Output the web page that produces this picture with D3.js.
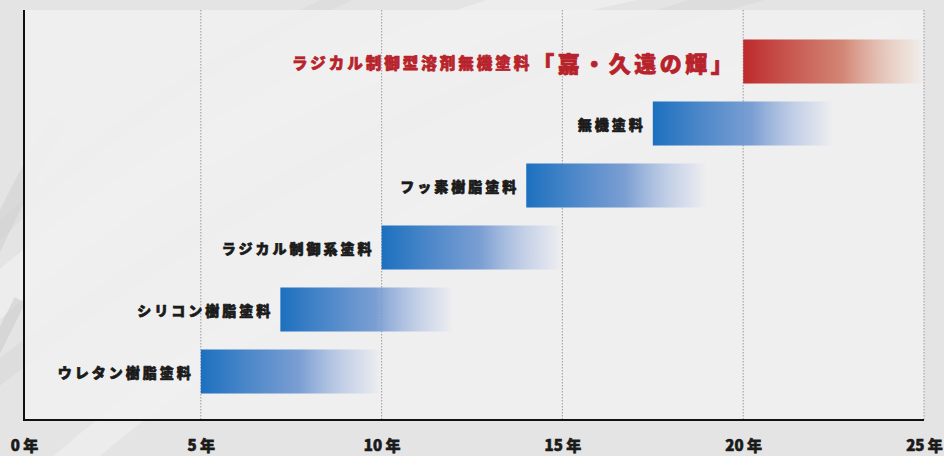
<!DOCTYPE html>
<html><head><meta charset="utf-8">
<script src="https://cdn.jsdelivr.net/npm/d3@7"></script>
<style>
html,body{margin:0;padding:0;background:#e5e5e5;}
svg{display:block;}
text{font-family:"Noto Sans CJK JP","Noto Sans",sans-serif;font-weight:900;}
</style></head>
<body>
<svg id="chart" width="944" height="456"></svg>
<script>
const categories = ["ラジカル制御型溶剤無機塗料", "無機塗料", "フッ素樹脂塗料", "ラジカル制御系塗料", "シリコン樹脂塗料", "ウレタン樹脂塗料"];
const highlightSuffix = ["「嘉・久遠の輝」", "", "", "", "", ""];
const startYears = [20, 17.5, 14, 10, 7.2, 5];
const endYears = [25, 22.5, 19, 15, 12, 10];
const tickValues = [0, 5, 10, 15, 20, 25];
const tickLabels = ["0 年", "5 年", "10 年", "15 年", "20 年", "25 年"];

(function () {
const svg = d3.select("#chart");
const W = 944, H = 456;
const mLeft = 24, mRight = 924, mTop = 10, mBottom = 420;

const defs = svg.append("defs");
svg.append("rect").attr("width", W).attr("height", H).attr("fill", "#e4e4e4");
const deco = svg.append("g").attr("fill", "none");
[[ "M-40,330 Q250,60 640,-20", 38, "#ffffff", 0.35],
 [ "M-60,420 Q300,120 760,-10", 22, "#d2d2d2", 0.35],
 [ "M60,470 Q420,160 900,30", 30, "#ffffff", 0.3],
 [ "M-20,250 Q150,80 380,-20", 14, "#cfcfcf", 0.3],
 [ "M-30,300 Q10,200 60,120", 18, "#cdcdcd", 0.5],
 [ "M-10,360 Q5,330 20,300", 12, "#c8c8c8", 0.5]
].forEach(([d, w, c, o]) => deco.append("path").attr("d", d).attr("stroke", c).attr("stroke-width", w).attr("opacity", o));

svg.append("rect").attr("x", mLeft).attr("y", mTop).attr("width", mRight - mLeft).attr("height", mBottom - mTop)
  .attr("fill", "#f0f0f0").attr("opacity", 0.88);

const x = d3.scaleLinear().domain([0, 25]).range([20, mRight]);
const y = d3.scaleBand().domain(categories).range([30.5, 402.5]).paddingInner(0.29).paddingOuter(0.145);

svg.append("g").selectAll("line").data(tickValues.slice(1)).join("line")
  .attr("x1", d => x(d)).attr("x2", d => x(d)).attr("y1", mTop).attr("y2", mBottom)
  .attr("stroke", "#a8a8a8").attr("stroke-width", 1.2).attr("stroke-dasharray", "1.5,1.5");

function grad(id, c1, c2, c3) {
  const g = defs.append("linearGradient").attr("id", id).attr("x1", "0").attr("x2", "1").attr("y1", "0").attr("y2", "0");
  g.append("stop").attr("offset", "0").attr("stop-color", c1).attr("stop-opacity", 1);
  g.append("stop").attr("offset", "0.55").attr("stop-color", c2).attr("stop-opacity", 0.9);
  g.append("stop").attr("offset", "0.9").attr("stop-color", c3).attr("stop-opacity", 0.55);
  g.append("stop").attr("offset", "1").attr("stop-color", c3).attr("stop-opacity", 0);
}
grad("gBlue", "#1c70bf", "#6f96d0", "#c9d3ea");
grad("gRed", "#be2a2c", "#cf7a67", "#ead0c2");

const rows = categories.map((c, i) => ({c, s: startYears[i], e: endYears[i], suf: highlightSuffix[i], red: i === 0}));

svg.append("g").selectAll("rect").data(rows).join("rect")
  .attr("x", d => x(d.s)).attr("y", d => y(d.c))
  .attr("width", d => x(d.e) - x(d.s)).attr("height", y.bandwidth())
  .attr("fill", d => d.red ? "url(#gRed)" : "url(#gBlue)");

const lab = svg.append("g");
rows.forEach(d => {
  const col = d.red ? "#b8232b" : "#1a1a1a";
  const t = lab.append("text").attr("x", x(d.s) - 7).attr("y", y(d.c) + y.bandwidth() / 2)
    .attr("text-anchor", "end").attr("dominant-baseline", "central")
    .attr("fill", col).attr("stroke", col).attr("stroke-width", 0.7).attr("stroke-linejoin", "round");
  t.append("tspan").text(d.c).attr("font-size", d.red ? 15.5 : 14).attr("letter-spacing", 3);
  if (d.suf) t.append("tspan").text(d.suf).attr("font-size", 22).attr("letter-spacing", 3.5);
});

svg.append("line").attr("x1", mLeft).attr("x2", mLeft).attr("y1", mTop).attr("y2", mBottom + 1).attr("stroke", "#111").attr("stroke-width", 2);
svg.append("line").attr("x1", mLeft - 1).attr("x2", mRight).attr("y1", mBottom).attr("y2", mBottom).attr("stroke", "#111").attr("stroke-width", 2);

const xAxis = d3.axisBottom(x).tickValues(tickValues).tickFormat((d, i) => tickLabels[i]).tickSize(0).tickPadding(0);
const ax = svg.append("g").attr("transform", `translate(0,${mBottom + 20})`).call(xAxis);
ax.select(".domain").remove();
ax.selectAll("text").attr("font-size", 15).attr("fill", "#1a1a1a")
  .attr("stroke", "#1a1a1a").attr("stroke-width", 0.6)
  .attr("font-family", '"Noto Sans CJK JP",sans-serif').attr("font-weight", 900);
ax.selectAll("text").filter((d) => d === 0).attr("dx", 4);
})();
</script>
</body></html>
